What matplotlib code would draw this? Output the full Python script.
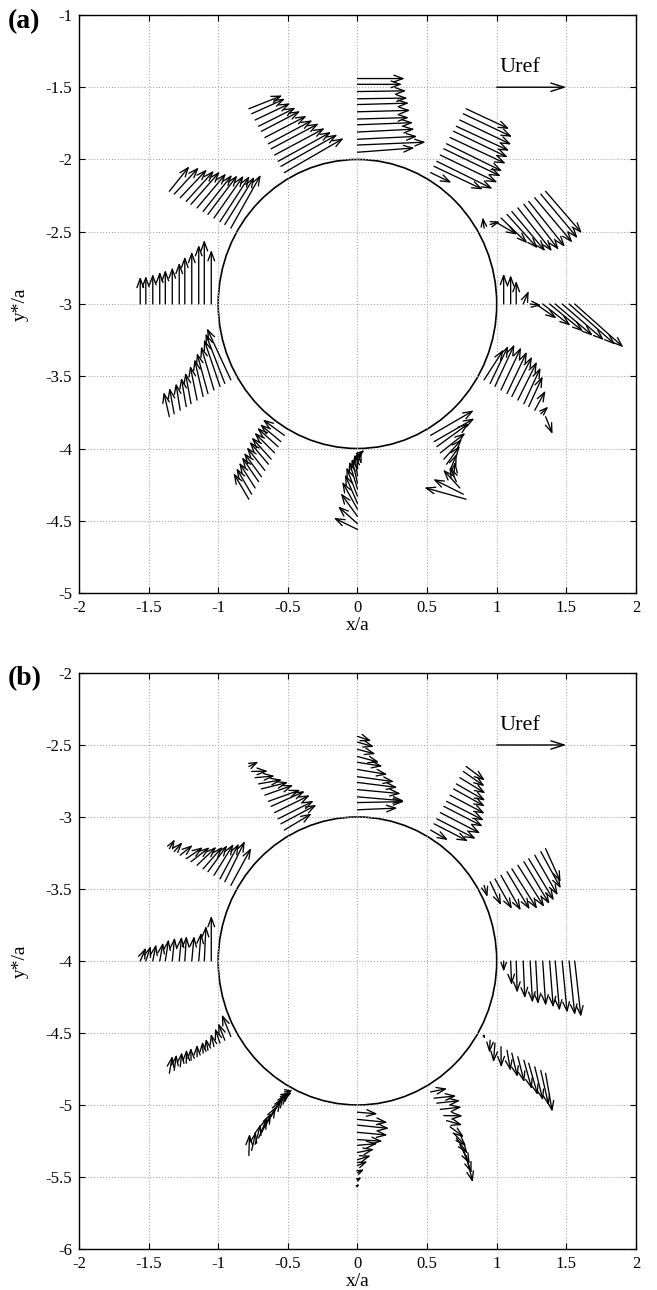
import numpy as np
import matplotlib.pyplot as plt

plt.rcParams['font.family'] = ['Liberation Serif', 'DejaVu Serif']
plt.rcParams['axes.unicode_minus'] = False

# probe stations round the cylinder (deg from +x) and radial probe positions r/a
angles = [90, 60, 30, 0, -30, -60, -90, -120, -150, 180, 150, 120]
r_probe = [1.05, 1.10, 1.14, 1.19, 1.24, 1.28, 1.33, 1.38, 1.42, 1.47, 1.52, 1.56]

# velocity components (same length units as x/a, Uref = 0.5), one row per station, inner probe first
u_a = [
    [0.41, 0.49, 0.43, 0.41, 0.40, 0.37, 0.38, 0.37, 0.36, 0.35, 0.32, 0.34],
    [0.15, 0.35, 0.40, 0.41, 0.41, 0.40, 0.40, 0.39, 0.38, 0.37, 0.35, 0.31],
    [-0.01, 0.07, 0.16, 0.19, 0.22, 0.24, 0.245, 0.25, 0.26, 0.27, 0.265, 0.26],
    [0.0, 0.0, 0.0, 0.04, 0.08, 0.15, 0.20, 0.24, 0.27, 0.30, 0.33, 0.35],
    [0.14, 0.13, 0.14, 0.145, 0.143, 0.145, 0.137, 0.12, 0.10, 0.077, 0.054, 0.05],
    [0.31, 0.29, 0.23, 0.18, 0.13, 0.096, 0.048, 0.012, -0.048, -0.12, -0.216, -0.30],
    [0.05, 0.03, 0.0, -0.02, -0.04, -0.06, -0.08, -0.09, -0.11, -0.12, -0.14, -0.17],
    [-0.155, -0.15, -0.15, -0.145, -0.14, -0.135, -0.13, -0.125, -0.12, -0.115, -0.11, -0.11],
    [-0.172, -0.139, -0.115, -0.093, -0.079, -0.062, -0.05, -0.041, -0.036, -0.031, -0.034, -0.041],
    [0.0, 0.0, 0.0, 0.0, 0.0, 0.0, 0.0, 0.0, 0.0, 0.0, 0.0, 0.0],
    [0.215, 0.213, 0.213, 0.213, 0.211, 0.208, 0.208, 0.206, 0.199, 0.192, 0.177, 0.144],
    [0.426, 0.406, 0.381, 0.36, 0.342, 0.317, 0.30, 0.279, 0.266, 0.253, 0.24, 0.24],
]
v_a = [
    [0.03, 0.02, 0.02, 0.02, 0.015, 0.01, 0.01, 0.01, 0.005, 0.005, 0.0, 0.0],
    [-0.07, -0.16, -0.19, -0.19, -0.19, -0.19, -0.18, -0.18, -0.17, -0.17, -0.16, -0.14],
    [0.075, 0.02, -0.09, -0.175, -0.235, -0.275, -0.30, -0.315, -0.315, -0.31, -0.305, -0.29],
    [0.21, 0.20, 0.16, 0.09, -0.01, -0.10, -0.15, -0.19, -0.22, -0.25, -0.28, -0.30],
    [0.21, 0.26, 0.29, 0.295, 0.29, 0.276, 0.266, 0.25, 0.21, 0.135, 0.05, -0.12],
    [0.173, 0.161, 0.161, 0.138, 0.138, 0.127, 0.115, 0.104, 0.104, 0.127, 0.104, 0.081],
    [0.04, 0.08, 0.12, 0.15, 0.17, 0.19, 0.20, 0.20, 0.19, 0.16, 0.12, 0.08],
    [0.11, 0.12, 0.13, 0.14, 0.15, 0.155, 0.16, 0.165, 0.17, 0.175, 0.18, 0.18],
    [0.357, 0.346, 0.325, 0.302, 0.281, 0.258, 0.238, 0.215, 0.20, 0.187, 0.18, 0.171],
    [0.374, 0.443, 0.409, 0.362, 0.328, 0.286, 0.254, 0.236, 0.224, 0.208, 0.194, 0.189],
    [0.369, 0.33, 0.316, 0.293, 0.27, 0.254, 0.238, 0.226, 0.212, 0.196, 0.185, 0.173],
    [0.238, 0.22, 0.203, 0.186, 0.175, 0.163, 0.15, 0.14, 0.129, 0.116, 0.104, 0.092],
]
u_b = [
    [0.287, 0.335, 0.335, 0.311, 0.287, 0.263, 0.215, 0.18, 0.156, 0.13, 0.12, 0.10],
    [0.125, 0.244, 0.28, 0.287, 0.28, 0.268, 0.249, 0.225, 0.208, 0.184, 0.153, 0.136],
    [0.024, 0.079, 0.122, 0.142, 0.163, 0.182, 0.189, 0.184, 0.181, 0.165, 0.144, 0.108],
    [0.0, 0.007, 0.007, 0.012, 0.017, 0.017, 0.022, 0.026, 0.031, 0.036, 0.041, 0.045],
    [0.007, -0.005, -0.011, 0.002, 0.026, 0.041, 0.046, 0.057, 0.065, 0.059, 0.057, 0.048],
    [0.12, 0.16, 0.168, 0.153, 0.136, 0.113, 0.10, 0.089, 0.081, 0.072, 0.06, 0.048],
    [0.144, 0.216, 0.227, 0.216, 0.18, 0.144, 0.12, 0.096, 0.072, 0.048, 0.029, 0.014],
    [0.06, 0.08, 0.09, 0.09, 0.09, 0.09, 0.08, 0.07, 0.06, 0.04, 0.03, 0.005],
    [-0.065, -0.048, -0.036, -0.022, -0.014, -0.005, 0.0, -0.002, 0.002, 0.012, 0.017, 0.022],
    [0.0, 0.012, 0.017, 0.017, 0.012, 0.017, 0.017, 0.024, 0.024, 0.024, 0.036, 0.041],
    [0.146, 0.144, 0.136, 0.141, 0.139, 0.139, 0.139, 0.134, 0.12, 0.09, 0.06, 0.04],
    [0.196, 0.256, 0.256, 0.254, 0.242, 0.23, 0.204, 0.192, 0.168, 0.141, 0.117, 0.069],
]
v_b = [
    [0.012, 0.007, -0.028, -0.028, -0.035, -0.035, -0.035, -0.028, -0.04, -0.033, -0.033, -0.033],
    [-0.07, -0.121, -0.139, -0.144, -0.139, -0.132, -0.128, -0.121, -0.116, -0.109, -0.103, -0.098],
    [-0.081, -0.163, -0.209, -0.244, -0.262, -0.279, -0.29, -0.295, -0.29, -0.279, -0.256, -0.232],
    [-0.074, -0.167, -0.221, -0.26, -0.29, -0.30, -0.311, -0.323, -0.346, -0.36, -0.376, -0.388],
    [-0.014, -0.088, -0.134, -0.144, -0.144, -0.166, -0.177, -0.20, -0.222, -0.233, -0.244, -0.267],
    [0.023, 0.016, 0.018, 0.016, -0.002, -0.031, -0.072, -0.091, -0.109, -0.137, -0.156, -0.186],
    [-0.012, -0.021, -0.023, -0.019, -0.012, 0.012, 0.023, 0.028, 0.028, 0.023, 0.019, 0.012],
    [0.01, 0.04, 0.08, 0.11, 0.13, 0.14, 0.14, 0.14, 0.14, 0.14, 0.13, 0.15],
    [0.153, 0.118, 0.102, 0.09, 0.081, 0.081, 0.084, 0.088, 0.095, 0.102, 0.111, 0.121],
    [0.314, 0.244, 0.197, 0.174, 0.174, 0.17, 0.163, 0.151, 0.128, 0.116, 0.105, 0.093],
    [0.26, 0.283, 0.246, 0.218, 0.184, 0.153, 0.128, 0.10, 0.08, 0.07, 0.065, 0.065],
    [0.114, 0.132, 0.125, 0.121, 0.105, 0.08, 0.07, 0.046, 0.029, 0.012, 0.002, 0.033],
]

uref = 0.5
x_ticks = [-2, -1.5, -1, -0.5, 0, 0.5, 1, 1.5, 2]


def arrow(ax, x0, y0, dx, dy, head=(0.65, 0.24), lw=0.95):
    # gnuplot-like open arrow head, shrunk for very short vectors
    length = np.hypot(dx, dy)
    ms = 10 * min(1.0, length / 0.09)
    style = '->,head_length=%g,head_width=%g' % head
    ax.annotate('', xy=(x0 + dx, y0 + dy), xytext=(x0, y0),
                arrowprops=dict(arrowstyle=style, lw=lw, color='black',
                                shrinkA=0, shrinkB=0, mutation_scale=ms))


def panel(ax, yc, u, v):
    ax.set_xlim(-2, 2)
    ax.set_ylim(yc - 2, yc + 2)
    ax.add_patch(plt.Circle((0, yc), 1, fill=False, lw=1.2, color='black'))

    r = np.array(r_probe)
    for k, th in enumerate(angles):
        t = np.deg2rad(th)
        xs = r * np.cos(t)
        ys = yc + r * np.sin(t)
        for i in range(len(r)):
            arrow(ax, xs[i], ys[i], u[k][i], v[k][i])

    # reference velocity
    arrow(ax, 1.0, yc + 1.5, uref, 0.0, head=(0.95, 0.3), lw=1.0)
    ax.text(1.02, yc + 1.57, 'Uref', fontsize=16, ha='left', va='bottom')

    yt = np.arange(yc - 2, yc + 2.01, 0.5)
    ax.set_xticks(x_ticks)
    ax.set_xticklabels(['%g' % t for t in x_ticks])
    ax.set_yticks(yt)
    ax.set_yticklabels(['%g' % t for t in yt])
    ax.tick_params(direction='in', length=4, width=0.8, labelsize=12,
                   top=True, right=True, pad=5)
    ax.grid(True, linestyle=':', color='#aaaaaa', lw=0.8)
    for s in ax.spines.values():
        s.set_linewidth(1.0)
    ax.set_xlabel('x/a', fontsize=14, labelpad=1)
    ax.set_ylabel('y*/a', fontsize=14, labelpad=12)


fig = plt.figure(figsize=(6.57, 12.9), dpi=100)
ax_a = fig.add_axes([0.1202, 0.5403, 0.8478, 0.4481])
ax_b = fig.add_axes([0.1202, 0.0318, 0.8478, 0.4465])

panel(ax_a, -3.0, u_a, v_a)
panel(ax_b, -4.0, u_b, v_b)

fig.text(0.012, 0.993, '(a)', fontsize=20, fontweight='bold', va='top')
fig.text(0.012, 0.484, '(b)', fontsize=20, fontweight='bold', va='top')

fig.savefig('out.png', dpi=100)
